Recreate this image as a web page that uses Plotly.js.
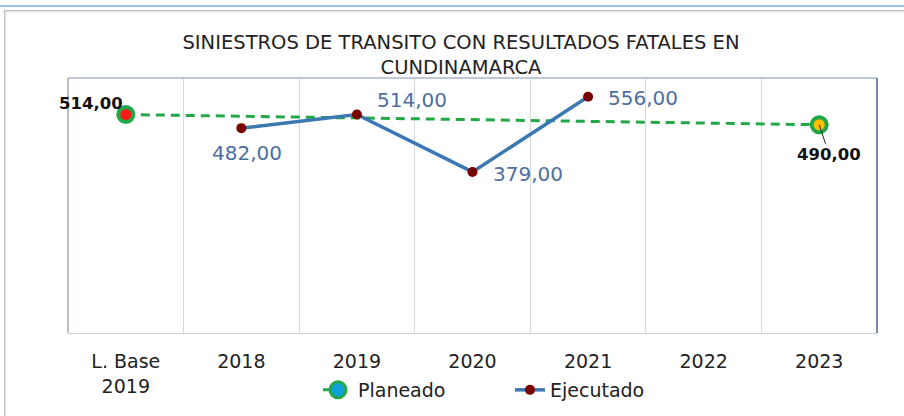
<!DOCTYPE html>
<html>
<head>
<meta charset="utf-8">
<script src="https://cdn.plot.ly/plotly-3.0.1.min.js"></script>
<style>
  html,body{margin:0;padding:0;background:#fff;width:904px;height:416px;overflow:hidden;}
  #topline{position:absolute;left:0;top:5px;width:904px;height:2px;background:#9DC3E6;}
  #frame{position:absolute;left:4px;top:10px;width:910px;height:420px;border:1px solid #BFBFBF;box-shadow:inset 1px 1px 2px #ddd;}
  #chart{position:absolute;left:0;top:0;width:904px;height:416px;}
</style>
</head>
<body>
<div id="topline"></div>
<div id="frame"></div>
<div id="chart"></div>
<script>
// ---- data ----
const categories = ["L. Base<br>2019", "2018", "2019", "2020", "2021", "2022", "2023"];
const planeado   = [514, null, null, null, null, null, 490];
const ejecutado  = [null, 482, 514, 379, 556, null, null];
const titleText  = "SINIESTROS DE TRANSITO CON RESULTADOS FATALES EN<br>CUNDINAMARCA";

const fmt = v => v.toFixed(2).replace('.', ',');
const FONT = "DejaVu Sans, Verdana, sans-serif";

const tracePlan = {
  x: categories, y: planeado, name: "Planeado", type: "scatter",
  mode: "lines+markers", connectgaps: true,
  line: {color: "#23A847", width: 3, dash: "9px,6px"},
  marker: {size: 16, color: "#0FA0D8", line: {color: "#23A847", width: 3}}
};
const planInner = {
  x: categories, y: planeado, type: "scatter", mode: "markers", showlegend: false,
  hoverinfo: "skip",
  marker: {size: 13, color: planeado.map((v,i)=> i===0 ? "#FF1A1A" : "#FFC000"),
           line: {color: "#23A847", width: 2}}
};
const traceEje = {
  x: categories, y: ejecutado, name: "Ejecutado", type: "scatter",
  mode: "lines+markers", connectgaps: false,
  line: {color: "#3C78B2", width: 3.5},
  marker: {size: 10, color: "#7A0000"}
};

const annotations = [];
// Planeado labels (x given as category index on the category axis)
annotations.push({x: 0, y: planeado[0], text: "<b>"+fmt(planeado[0])+"</b>",
  showarrow: false, xanchor: "right", yanchor: "bottom", xshift: -1, yshift: 0,
  font: {family: FONT, size: 16.5, color: "#111"}});
annotations.push({x: 6, y: planeado[6], text: "<b>"+fmt(planeado[6])+"</b>",
  showarrow: true, arrowhead: 0, arrowwidth: 1, arrowcolor: "#222", ax: 10, ay: 30,
  font: {family: FONT, size: 16.5, color: "#111"}});
// Ejecutado labels
const ejeOffsets = {1: [6, -25], 2: [55, 15], 3: [55, -2], 4: [55, -1]};
for (const k in ejeOffsets) {
  const i = +k;
  annotations.push({x: i, y: ejecutado[i], text: fmt(ejecutado[i]),
    showarrow: false, xshift: ejeOffsets[k][0], yshift: ejeOffsets[k][1],
    font: {family: FONT, size: 20, color: "#4E6E9E"}});
}

const layout = {
  width: 904, height: 416,
  margin: {l: 68, r: 27, t: 78, b: 83, autoexpand: false},
  paper_bgcolor: "rgba(0,0,0,0)", plot_bgcolor: "rgba(0,0,0,0)",
  title: {text: titleText, x: 461/904, xref: "container", xanchor: "center",
          y: 1 - 49/416, yref: "container", yanchor: "middle",
          font: {family: FONT, size: 19.5, color: "#222"}},
  xaxis: {type: "category", tickson: "boundaries", showgrid: true, gridcolor: "#D9D9D9",
          range: [-0.5, categories.length - 0.5], autorange: false, tickangle: 0, automargin: false,
          ticks: "", showline: true, linecolor: "#D0D0D0", linewidth: 1,
          tickfont: {family: FONT, size: 19, color: "#222"}, ticklabelstandoff: 11,
          zeroline: false, fixedrange: true},
  yaxis: {range: [0, 600], showticklabels: false, showgrid: false, zeroline: false,
          showline: false, fixedrange: true, automargin: false},
  shapes: [
    {type: "line", xref: "paper", yref: "paper", x0: 0, x1: 0, y0: 0, y1: 1, line: {color: "#A0A8C0", width: 1.5}},
    {type: "line", xref: "paper", yref: "paper", x0: 0, x1: 1, y0: 1, y1: 1, line: {color: "#8090B8", width: 1}},
    {type: "line", xref: "paper", yref: "paper", x0: 1, x1: 1, y0: 0, y1: 1, line: {color: "#50609A", width: 1.5}}
  ],
  annotations: annotations,
  showlegend: true,
  legend: {orientation: "h", x: (318 - 68)/809, xanchor: "left",
           yref: "container", y: 26/416, yanchor: "middle",
           font: {family: FONT, size: 19, color: "#222"}, entrywidth: 147, entrywidthmode: "pixels",
           bgcolor: "rgba(0,0,0,0)", traceorder: "normal"}
};

Plotly.newPlot("chart", [tracePlan, traceEje, planInner], layout, {displayModeBar: false, staticPlot: true});
</script>
</body>
</html>
